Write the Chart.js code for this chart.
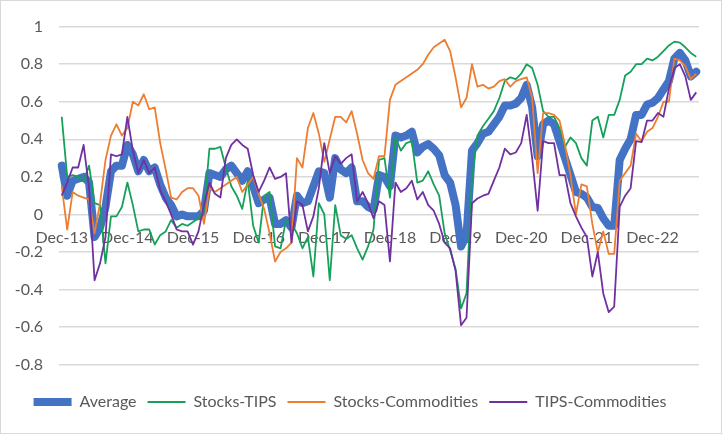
<!DOCTYPE html>
<html>
<head>
<meta charset="utf-8">
<script src="https://cdn.jsdelivr.net/npm/chart.js@4.4.1/dist/chart.umd.min.js"></script>
<style>
  html, body { margin: 0; padding: 0; background: #fff; }
  #wrap { position: relative; width: 720px; height: 432px; border: 1px solid #d9d9d9; }
</style>
</head>
<body>
<div id="wrap"><canvas id="corrChart"></canvas></div>
<script>
const monthNames = ["Jan", "Feb", "Mar", "Apr", "May", "Jun", "Jul", "Aug", "Sep", "Oct", "Nov", "Dec"];

const average = [
  0.26, 0.1, 0.18, 0.19, 0.2, 0.17, -0.12, -0.07, 0.04, 0.23,
  0.26, 0.26, 0.37, 0.32, 0.23, 0.29, 0.23, 0.25, 0.16, 0.09,
  0.05, -0.01, 0.0, -0.01, -0.01, -0.01, 0.02, 0.22, 0.21, 0.2,
  0.24, 0.26, 0.22, 0.18, 0.23, 0.15, 0.06, 0.08, 0.09, -0.05,
  -0.05, -0.03, -0.07, 0.1, 0.06, 0.07, 0.15, 0.23, 0.22, 0.09,
  0.3, 0.24, 0.22, 0.25, 0.07, 0.07, 0.04, 0.025, 0.21, 0.2,
  0.15, 0.42, 0.41, 0.42, 0.44, 0.33, 0.36, 0.375, 0.35, 0.315,
  0.21, 0.17, 0.05, -0.17, -0.11, 0.34, 0.38, 0.43, 0.44, 0.48,
  0.52, 0.58, 0.58, 0.59, 0.62, 0.69, 0.57, 0.31, 0.48, 0.5,
  0.48, 0.39, 0.3, 0.21, 0.12, 0.11, 0.09, 0.04, 0.035, -0.02,
  -0.06, -0.06, 0.29, 0.35, 0.4, 0.53, 0.53, 0.585, 0.595, 0.62,
  0.665, 0.71, 0.83, 0.86, 0.82, 0.735, 0.76
];

const stocksTips = [
  0.52, 0.2, 0.21, 0.2, 0.18, 0.26, 0.06, 0.05, -0.26, -0.01,
  -0.01, 0.04, 0.17, 0.05, -0.09, -0.08, -0.08, -0.16, -0.11, -0.09,
  -0.03, -0.07, -0.05, -0.06, -0.04, -0.02, 0.02, 0.35, 0.35, 0.36,
  0.25, 0.15, 0.1, 0.03, 0.18, -0.06, -0.15, 0.1, 0.12, -0.17,
  -0.18, -0.03, -0.05, -0.1, -0.18, -0.12, -0.33, 0.06, 0.0, -0.35,
  0.05, -0.11, -0.13, -0.11, -0.18, -0.24, -0.17, -0.08, 0.29, 0.3,
  0.09, 0.41, 0.34, 0.38, 0.39, 0.17, 0.18, 0.23, 0.16, 0.1,
  -0.1, -0.19, -0.29, -0.5, -0.42, 0.2, 0.42, 0.47, 0.51, 0.55,
  0.62, 0.71, 0.73, 0.72, 0.75, 0.8, 0.78, 0.69, 0.55, 0.52,
  0.52, 0.46, 0.36, 0.41, 0.38, 0.3, 0.26, 0.5, 0.52, 0.41,
  0.53, 0.53, 0.61, 0.74, 0.76, 0.8, 0.8, 0.83, 0.82, 0.84,
  0.87, 0.9, 0.92, 0.915, 0.89, 0.86, 0.84
];

const stocksCommodities = [
  0.15, -0.08, 0.12, 0.1, 0.09, 0.08, -0.1, 0.06, 0.29, 0.42,
  0.48, 0.42, 0.46, 0.6, 0.58, 0.64, 0.56, 0.57, 0.38, 0.24,
  0.09, 0.08, 0.12, 0.14, 0.14, 0.1, -0.05, 0.14, 0.12, 0.14,
  0.16, 0.18, 0.2, 0.12, 0.16, 0.2, 0.11, 0.03, -0.1, -0.25,
  -0.2, -0.18, -0.15, 0.3, 0.25, 0.46, 0.54, 0.43, 0.28, 0.4,
  0.52, 0.52, 0.49, 0.55, 0.43, 0.29, 0.22, 0.19, 0.31, 0.31,
  0.61, 0.69, 0.71, 0.73, 0.75, 0.77, 0.8, 0.85, 0.89, 0.91,
  0.93, 0.87, 0.73, 0.57, 0.62, 0.8, 0.68, 0.69, 0.67, 0.68,
  0.71, 0.72, 0.68, 0.71, 0.72, 0.73, 0.62, 0.22, 0.54, 0.54,
  0.53, 0.5, 0.37, 0.21, 0.0, 0.16, 0.15, -0.05, -0.2, -0.09,
  -0.21, -0.21, 0.18, 0.22, 0.26, 0.43, 0.39, 0.44, 0.46, 0.52,
  0.6, 0.6, 0.83, 0.82, 0.79, 0.72, 0.75
];

const tipsCommodities = [
  0.1, 0.17, 0.25, 0.25, 0.37, 0.14, -0.35, -0.26, -0.12, 0.32,
  0.31, 0.32, 0.52, 0.34, 0.22, 0.29, 0.22, 0.25, 0.13, 0.07,
  0.0, -0.08, -0.09, -0.09, -0.16, -0.09, 0.05, 0.17, 0.11, 0.09,
  0.3, 0.37, 0.4, 0.37, 0.35, 0.21, 0.12, 0.18, 0.25, 0.19,
  0.2, 0.22, -0.15, 0.07, 0.05, -0.09, -0.01, 0.14, 0.38, 0.22,
  0.31, 0.27, 0.3, 0.32, 0.07, 0.12, 0.06, -0.02, 0.07, 0.05,
  -0.25, 0.17, 0.12, 0.14, 0.18, 0.08, 0.12, 0.05, 0.02, -0.05,
  -0.15, -0.18, -0.3, -0.59, -0.55, 0.06, 0.085, 0.1, 0.11, 0.18,
  0.25, 0.35, 0.32, 0.33, 0.38, 0.53, 0.3, 0.02, 0.39, 0.38,
  0.38, 0.21, 0.21, 0.06, -0.01, -0.07, -0.12, -0.33, -0.2, -0.42,
  -0.52, -0.49, 0.04, 0.1, 0.14, 0.39, 0.385, 0.5, 0.5, 0.54,
  0.52, 0.67, 0.78, 0.8, 0.735, 0.61, 0.65
];

// monthly categories, first one is Dec-13
const labels = [];
for (let k = 0; k < average.length; k++) {
  const m = (11 + k) % 12;
  const yr = 13 + Math.floor((11 + k) / 12);
  labels.push(monthNames[m] + "-" + yr);
}

const textColor = "#595959";
const gridColor = "#d9d9d9";
const fontFamily = "Lato, 'Open Sans', sans-serif";

const ctx = document.getElementById("corrChart").getContext("2d");
new Chart(ctx, {
  type: "line",
  data: {
    labels: labels,
    datasets: [
      {
        label: "Average",
        data: average,
        borderColor: "#4472c4",
        backgroundColor: "#4472c4",
        borderWidth: 8,
        borderCapStyle: "round",
        order: 4,
      },
      {
        label: "Stocks-TIPS",
        data: stocksTips,
        borderColor: "#16a05a",
        backgroundColor: "#16a05a",
        borderWidth: 1.8,
        order: 3,
      },
      {
        label: "Stocks-Commodities",
        data: stocksCommodities,
        borderColor: "#ed7d31",
        backgroundColor: "#ed7d31",
        borderWidth: 1.8,
        order: 2,
      },
      {
        label: "TIPS-Commodities",
        data: tipsCommodities,
        borderColor: "#7030a0",
        backgroundColor: "#7030a0",
        borderWidth: 1.8,
        order: 1,
      },
    ],
  },
  options: {
    responsive: true,
    maintainAspectRatio: false,
    animation: false,
    layout: { padding: { top: 22, right: 22, bottom: 13, left: 0 } },
    elements: {
      point: { radius: 0, hoverRadius: 0 },
      line: { tension: 0, borderJoinStyle: "round" },
    },
    scales: {
      x: {
        position: { y: 0 },
        offset: true,
        grid: { display: false, drawTicks: false },
        border: { display: false },
        ticks: {
          autoSkip: false,
          maxRotation: 0,
          padding: 14,
          color: textColor,
          font: { family: fontFamily, size: 16 },
          callback: function (val, idx) {
            return idx % 12 === 0 ? this.getLabelForValue(val) : "";
          },
        },
      },
      y: {
        min: -0.8,
        max: 1,
        grid: { color: gridColor, lineWidth: 1.5, drawTicks: false },
        border: { display: false },
        ticks: {
          stepSize: 0.2,
          padding: 16,
          color: textColor,
          font: { family: fontFamily, size: 16 },
          callback: (v) => String(Math.round(v * 10) / 10),
        },
        afterFit: function (scale) { scale.width = 58; },
      },
    },
    plugins: {
      tooltip: { enabled: false },
      legend: {
        position: "bottom",
        title: { display: true, text: "", font: { size: 1 }, padding: { top: 17, bottom: 0 } },
        labels: {
          usePointStyle: true,
          pointStyle: "line",
          pointStyleWidth: 38,
          padding: 11,
          color: textColor,
          font: { family: fontFamily, size: 16 },
          sort: (a, b) => a.datasetIndex - b.datasetIndex,
        },
      },
    },
  },
});
</script>
</body>
</html>
